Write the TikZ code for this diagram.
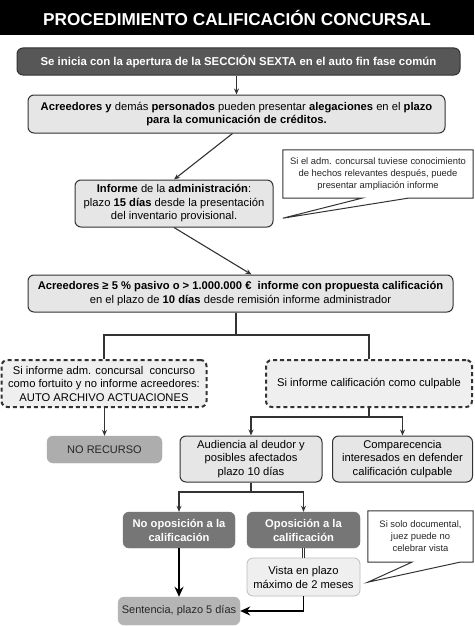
\documentclass[tikz,border=0pt]{standalone}
\usepackage{fontspec}
\setmainfont{Liberation Sans}
\usetikzlibrary{calc,arrows.meta}
\definecolor{dk}{HTML}{333333}
\definecolor{lbox}{HTML}{E6E6E6}
\definecolor{b1fill}{HTML}{575757}
\definecolor{midg}{HTML}{767676}
\definecolor{nrg}{HTML}{ADADAD}
\definecolor{vfill}{HTML}{EFEFEF}
\definecolor{vbord}{HTML}{BDBDBD}
\tikzset{
  boxbase/.style={rounded corners=6pt, align=center, inner sep=1pt, text=black},
  lightbox/.style={boxbase, fill=lbox, draw=dk, line width=1pt, font=\fontsize{11.2}{13.5}\selectfont},
  darkbox/.style={boxbase, fill=b1fill, draw=dk, line width=1pt, text=white, font=\fontsize{11.4}{13}\selectfont\bfseries},
  midbox/.style={boxbase, fill=midg, draw=midg, text=white, font=\fontsize{11.2}{14}\selectfont\bfseries},
  greybox/.style={boxbase, fill=nrg, draw=nrg, text=black!85, font=\fontsize{11}{13.5}\selectfont},
  vistabox/.style={boxbase, fill=vfill, draw=vbord, line width=0.8pt, font=\fontsize{11.2}{14}\selectfont},
  dashbox/.style={boxbase, fill=vfill, draw=dk, line width=2pt, dash pattern=on 4pt off 3pt, font=\fontsize{11.2}{13.5}\selectfont},
  calltext/.style={align=center, inner sep=0pt, text=black!85, font=\fontsize{9.4}{12}\selectfont},
  callout/.style={draw=dk, line width=1pt, line join=miter},
  conn/.style={draw=dk, line width=1.1pt},
  arr/.style={conn, -{Stealth[length=6pt,width=5pt]}},
  bigarr/.style={draw=black, line width=1.8pt, -{Stealth[length=10pt,width=9pt]}},
}
\begin{document}
\begin{tikzpicture}[x=1pt,y=-1pt]
\useasboundingbox (0,0) rectangle (474,626);
\fill[white] (0,0) rectangle (474,626);
% title
\fill[black] (0,0) rectangle (474,35);
\node[text=white, font=\fontsize{17.2}{20}\selectfont\bfseries] (title) at (237,17.5) {PROCEDIMIENTO CALIFICACIÓN CONCURSAL};
% boxes
\node[darkbox, minimum width=443pt, minimum height=27pt] (b1) at (238.5,61.5) {Se inicia con la apertura de la SECCIÓN SEXTA en el auto fin fase común};
\node[lightbox, minimum width=417pt, minimum height=38pt] (b2) at (236.5,114) {\textbf{Acreedores y} demás \textbf{personados} pueden presentar \textbf{alegaciones} en el \textbf{plazo}\\ \textbf{para la comunicación de créditos.}};
\node[lightbox, minimum width=198pt, minimum height=47pt] (inf) at (174,203.5) {\textbf{Informe} de la \textbf{administración}:\\ plazo \textbf{15 días} desde la presentación\\ del inventario provisional.};
\node[calltext, minimum width=190pt, minimum height=48pt] (c1) at (378,174) {Si el adm. concursal tuviese conocimiento\\ de hechos relevantes después, puede\\ presentar ampliación informe};
\draw[callout] (c1.north west) -- (c1.north east) -- (c1.south east) -- ($(c1.south west)+(125,0)$) -- ($(c1.south west)+(0,20)$) -- ($(c1.south west)+(79,0)$) -- (c1.south west) -- cycle;
\node[lightbox, minimum width=425pt, minimum height=37pt] (b4) at (240.5,293.5) {\textbf{Acreedores ≥ 5 \% pasivo o > 1.000.000 €\ \ informe con propuesta calificación}\\ en el plazo de \textbf{10 días} desde remisión informe administrador};
\node[dashbox, minimum width=205pt, minimum height=47pt] (dl) at (104,383.5) {Si informe adm. concursal\ \ concurso\\ como fortuito y no informe acreedores:\\ AUTO ARCHIVO ACTUACIONES};
\node[dashbox, minimum width=206pt, minimum height=47pt] (dr) at (369,383.5) {Si informe calificación como culpable};
\node[greybox, minimum width=115pt, minimum height=27pt] (nr) at (104.5,449.5) {NO RECURSO};
\node[lightbox, minimum width=142pt, minimum height=46pt] (aud) at (251,459) {Audiencia al deudor y\\ posibles afectados\\ plazo 10 días};
\node[lightbox, minimum width=140pt, minimum height=46pt] (comp) at (402.5,459) {Comparecencia\\ interesados en defender\\ calificación culpable};
\node[midbox, minimum width=112pt, minimum height=36pt] (noop) at (179,530) {No oposición a la\\ calificación};
\node[midbox, minimum width=113pt, minimum height=36pt] (op) at (303.5,530) {Oposición a la\\ calificación};
\node[calltext, minimum width=105pt, minimum height=51pt] (c2) at (420.5,536.5) {Si solo documental,\\ juez puede no\\ celebrar vista};
\draw[callout] (c2.north west) -- (c2.north east) -- (c2.south east) -- ($(c2.south west)+(92,0)$) -- ($(c2.south west)+(0,20)$) -- ($(c2.south west)+(44,0)$) -- (c2.south west) -- cycle;
\node[vistabox, minimum width=113pt, minimum height=38pt] (vista) at (303.5,577) {Vista en plazo\\ máximo de 2 meses};
\node[greybox, fill=nrg!90, draw=nrg!90, minimum width=122pt, minimum height=28pt] (sent) at (179,611) {Sentencia, plazo 5 días};
% connectors
\draw[arr] (b2.north |- b1.south) -- (b2.north);
\draw[arr] ([xshift=-4pt]b2.south) -- (inf.north);
\draw[arr] (inf.south) -- ([xshift=11pt]b4.north);
\coordinate (j1) at (236,335);
\draw[conn] (j1 |- b4.south) -- (j1);
\draw[conn] (dl.north) |- (j1) -| (dr.north);
\draw[arr] (nr.north |- dl.south) -- (nr.north);
\coordinate (j2) at (369,417);
\draw[conn] (dr.south) -- (j2);
\draw[arr] (j2) -| (aud.north);
\draw[arr] (j2) -| (comp.north);
\coordinate (j3) at (251,492);
\draw[conn] (aud.south) -- (j3);
\draw[arr] (j3) -| (noop.north);
\draw[arr] (j3) -| (op.north);
\draw[draw=dk, double=white, double distance=1.6pt, line width=0.7pt] (op.south) -- (vista.north);
\draw[bigarr] (noop.south) -- (sent.north);
\draw[bigarr] (vista.south) |- (sent.east);
\end{tikzpicture}
\end{document}
